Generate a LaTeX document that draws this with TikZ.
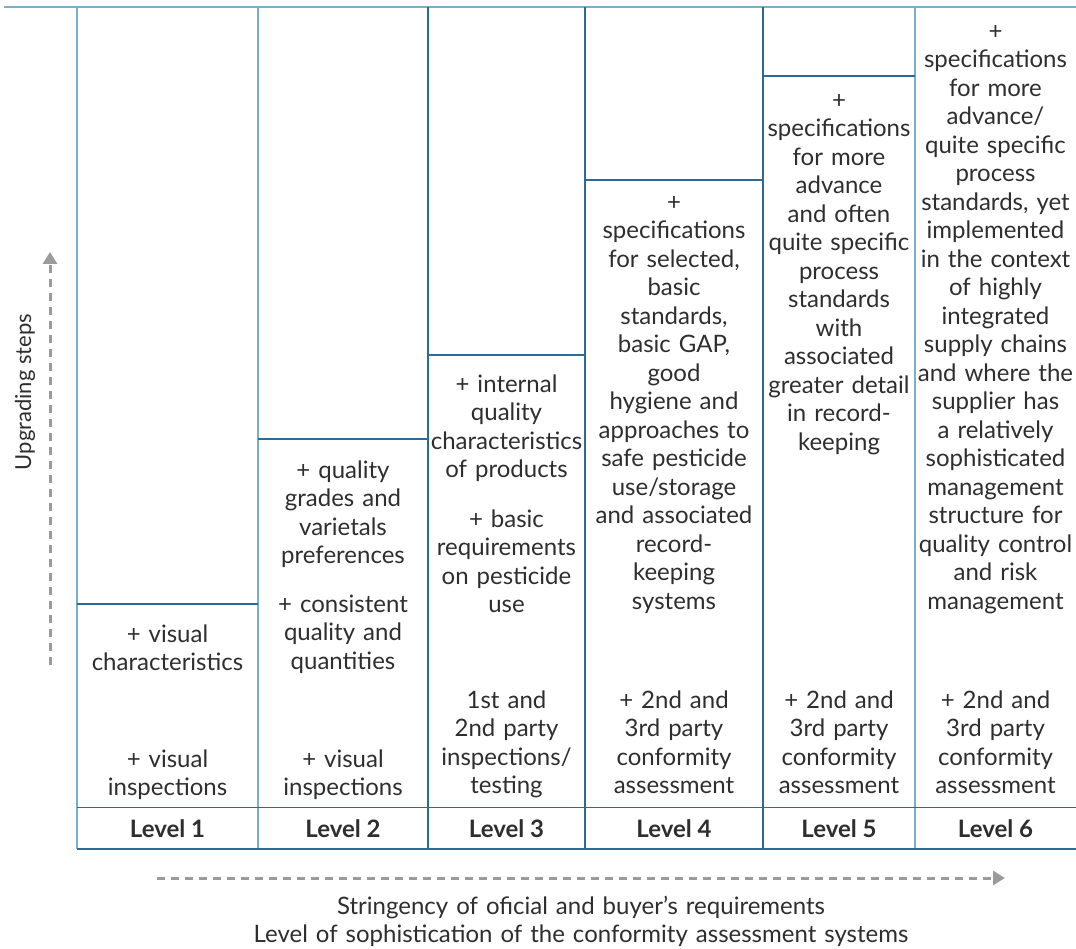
\documentclass[tikz,border=0pt]{standalone}
\usepackage{fontspec}
\setmainfont{Lato}
\usetikzlibrary{arrows.meta}
\definecolor{lblue}{HTML}{7AAFCB}
\definecolor{dblue}{HTML}{2B6A99}
\definecolor{txt}{HTML}{2E2E2E}
\definecolor{arr}{HTML}{9B9B9B}
\begin{document}
\begin{tikzpicture}[x=1pt,y=-1pt,
  cell/.style={text width=220pt, align=center, anchor=base, inner sep=0pt, font=\fontsize{24}{28.5}\selectfont, text=txt},
  lvl/.style={anchor=base, inner sep=0pt, font=\fontsize{24}{28}\selectfont\bfseries, text=txt},
  vl/.style={draw=lblue, line width=2pt},
  vd/.style={draw=dblue, line width=1.3pt},
  hd/.style={draw=dblue, line width=1.3pt},
  dasharrow/.style={draw=arr, line width=3pt, dash pattern=on 8pt off 6pt, -{Triangle[length=12pt,width=14pt]}}]
\useasboundingbox (0,0) rectangle (1076,949);
% grid
\draw[vl] (4,7) -- (1076,7);
\draw[vl] (77,7) -- (77,849);
\draw[vl] (258,7) -- (258,849);
\draw[vd] (428,7) -- (428,849);
\draw[vd] (585,7) -- (585,849);
\draw[vd] (763,7) -- (763,849);
\draw[vl] (915,7) -- (915,849);
\draw[hd] (77,604) -- (258,604);
\draw[hd] (258,439) -- (428,439);
\draw[hd] (428,355) -- (585,355);
\draw[hd] (585,180) -- (763,180);
\draw[hd] (763,76) -- (915,76);
\draw[hd] (77,807.5) -- (1076,807.5);
\draw[hd] (77,849) -- (1076,849);
% column 1
\node[cell] (c1a) at (167.5,642) {+ visual\\characteristics};
\node[cell] (c1b) at (167.5,767) {+ visual\\inspections};
% column 2
\node[cell] (c2a) at (343,478) {+ quality\\grades and\\varietals\\preferences};
\node[cell] (c2b) at (343,612) {+ consistent\\quality and\\quantities};
\node[cell] (c2c) at (343,767) {+ visual\\inspections};
% column 3
\node[cell] (c3a) at (506.5,392) {+ internal\\quality\\characteristics\\of products};
\node[cell] (c3b) at (506.5,527) {+ basic\\requirements\\on pesticide\\use};
\node[cell] (c3c) at (506.5,708) {1st and\\2nd party\\inspections/\\testing};
% column 4
\node[cell] (c4a) at (674,210.5) {+\\specifications\\for selected,\\basic\\standards,\\basic GAP,\\good\\hygiene and\\approaches to\\safe pesticide\\use/storage\\and associated\\record-\\keeping\\systems};
\node[cell] (c4b) at (674,708) {+ 2nd and\\3rd party\\conformity\\assessment};
% column 5
\node[cell] (c5a) at (839,108.5) {+\\specifications\\for more\\advance\\and often\\quite specific\\process\\standards\\with\\associated\\greater detail\\in record-\\keeping};
\node[cell] (c5b) at (839,708) {+ 2nd and\\3rd party\\conformity\\assessment};
% column 6
\node[cell] (c6a) at (995.5,39.5) {+\\specifications\\for more\\advance/\\quite specific\\process\\standards, yet\\implemented\\in the context\\of highly\\integrated\\supply chains\\and where the\\supplier has\\a relatively\\sophisticated\\management\\structure for\\quality control\\and risk\\management};
\node[cell] (c6b) at (995.5,708) {+ 2nd and\\3rd party\\conformity\\assessment};
% levels
\node[lvl] (l1) at (167.5,837) {Level 1};
\node[lvl] (l2) at (343,837) {Level 2};
\node[lvl] (l3) at (506.5,837) {Level 3};
\node[lvl] (l4) at (674,837) {Level 4};
\node[lvl] (l5) at (839,837) {Level 5};
\node[lvl] (l6) at (995.5,837) {Level 6};
% arrows
\coordinate (hs) at (157,878);
\coordinate (he) at (1005,878);
\draw[dasharrow] (hs) -- (he);
\coordinate (vs) at (50,665);
\coordinate (ve) at (50,252);
\draw[dasharrow] (vs) -- (ve);
\node[anchor=center, rotate=90, inner sep=0pt, font=\fontsize{22}{26}\selectfont, text=txt] (up) at (25,392) {Upgrading steps};
\node[cell, text width=760pt] (bottom) at (581,914) {Stringency of oficial and buyer’s requirements\\Level of sophistication of the conformity assessment systems};
\end{tikzpicture}
\end{document}
